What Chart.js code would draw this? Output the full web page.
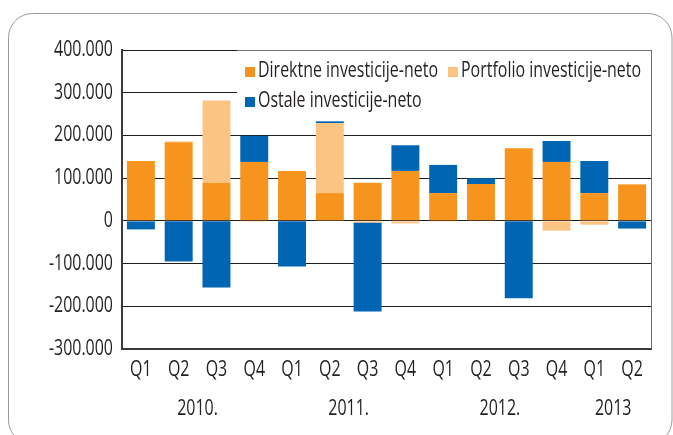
<!DOCTYPE html>
<html>
<head>
<meta charset="utf-8">
<script src="https://cdn.jsdelivr.net/npm/chart.js@4"></script>
<style>
    html, body { margin: 0; padding: 0; background: #ffffff; }
    #wrap { width: 673px; height: 435px; position: relative; }
</style>
</head>
<body>
<div id="wrap"><canvas id="barChart" width="673" height="435"></canvas></div>
<script>
var quarters = ["Q1", "Q2", "Q3", "Q4", "Q1", "Q2", "Q3", "Q4", "Q1", "Q2", "Q3", "Q4", "Q1", "Q2"];
var years = ["2010.", "2011.", "2012.", "2013"];
var yearSpans = [[0, 3], [4, 7], [8, 11], [12, 13]];

// values in thousands
var direktne = [140, 184, 89, 138, 117, 65, 89, 117, 65, 86, 170, 138, 65, 85];
var portfolio = [0, 2, 193, -2, 0, 164, -4, -6, -2, 0, 0, -23, -9, 1.5];
var ostale = [-20, -95, -156, 61, -107, 4, -208, 60, 66, 14, -181, 49, 75, -18];

var yTicks = [-300000, -200000, -100000, 0, 100000, 200000, 300000, 400000];

var seriesNames = ["Direktne investicije-neto", "Portfolio investicije-neto", "Ostale investicije-neto"];
var seriesColors = ["#F7941D", "#FBC483", "#0066B3"];

var FONT = "21px 'Open Sans', sans-serif";
var SQUEEZE = 0.76; // condensed look for all labels
var TEXT_COLOR = "#231f20";

function toUnits(arr) {
    return arr.map(function (v) { return v * 1000; });
}

function formatThousands(value) {
    if (value === 0) return "0";
    var sign = value < 0 ? "-" : "";
    var s = String(Math.abs(value));
    var out = "";
    while (s.length > 3) {
        out = "." + s.slice(-3) + out;
        s = s.slice(0, -3);
    }
    return sign + s + out;
}

function drawText(ctx, text, x, y, align) {
    ctx.save();
    ctx.translate(x, y);
    ctx.scale(SQUEEZE, 1);
    ctx.font = FONT;
    ctx.fillStyle = TEXT_COLOR;
    ctx.textAlign = align;
    ctx.textBaseline = "middle";
    ctx.fillText(text, 0, 0);
    ctx.restore();
}

// rounded outer frame, legend, tick and year labels
var framePlugin = {
    id: "frame",
    beforeDraw: function (chart) {
        var ctx = chart.ctx;
        ctx.save();
        ctx.fillStyle = "#ffffff";
        ctx.fillRect(0, 0, chart.width, chart.height);
        ctx.strokeStyle = "#9a9a9a";
        ctx.lineWidth = 1;
        ctx.beginPath();
        ctx.roundRect(8.5, 13.5, 663.5, 430.5, 24);
        ctx.stroke();
        ctx.restore();
    },
    afterDraw: function (chart) {
        var ctx = chart.ctx;
        var area = chart.chartArea;
        var xScale = chart.scales.x;
        var yScale = chart.scales.y;
        ctx.save();

        // legend box overlaps the top of the plot
        var lx = 237, ly = 51, lw = area.right - 237, lh = 64;
        ctx.fillStyle = "#ffffff";
        ctx.fillRect(lx, ly, lw, lh);

        ctx.strokeStyle = "#6e6e6e";
        ctx.lineWidth = 1;
        ctx.beginPath();
        ctx.moveTo(lx, area.top + 0.5);
        ctx.lineTo(area.right + 0.5, area.top + 0.5);
        ctx.moveTo(area.right + 0.5, area.top);
        ctx.lineTo(area.right + 0.5, area.bottom);
        ctx.stroke();

        var items = [
            { x: 245, y: 71, i: 0 },
            { x: 448, y: 71, i: 1 },
            { x: 245, y: 101, i: 2 }
        ];
        items.forEach(function (it) {
            ctx.fillStyle = seriesColors[it.i];
            ctx.fillRect(it.x, it.y - 4, 10, 10);
            drawText(ctx, seriesNames[it.i], it.x + 13, it.y, "left");
        });

        // y tick labels
        yTicks.forEach(function (v) {
            drawText(ctx, formatThousands(v), area.left - 9, yScale.getPixelForValue(v), "right");
        });

        // quarter labels
        quarters.forEach(function (q, i) {
            drawText(ctx, q, xScale.getPixelForValue(i), 370, "center");
        });

        // year labels under the quarters
        years.forEach(function (label, k) {
            var a = xScale.getPixelForValue(yearSpans[k][0]);
            var b = xScale.getPixelForValue(yearSpans[k][1]);
            drawText(ctx, label, (a + b) / 2, 409, "center");
        });
        ctx.restore();
    }
};

document.addEventListener("DOMContentLoaded", function () {
    var ctx = document.getElementById("barChart").getContext("2d");

    var myChart = new Chart(ctx, {
        type: "bar",
        data: {
            labels: quarters,
            datasets: [
                { label: seriesNames[0], data: toUnits(direktne), backgroundColor: seriesColors[0] },
                { label: seriesNames[1], data: toUnits(portfolio), backgroundColor: seriesColors[1] },
                { label: seriesNames[2], data: toUnits(ostale), backgroundColor: seriesColors[2] }
            ]
        },
        options: {
            responsive: false,
            animation: false,
            layout: { padding: { left: 20, right: 22, top: 50, bottom: 0 } },
            plugins: {
                legend: { display: false },
                tooltip: { enabled: false }
            },
            datasets: {
                bar: { categoryPercentage: 1, barPercentage: 0.74 }
            },
            scales: {
                x: {
                    stacked: true,
                    grid: { display: false, drawTicks: false },
                    border: { color: "#3a3a3a", width: 2 },
                    ticks: { display: false },
                    afterFit: function (scale) { scale.height = 86; }
                },
                y: {
                    stacked: true,
                    min: -300000,
                    max: 400000,
                    afterBuildTicks: function (scale) {
                        scale.ticks = yTicks.map(function (v) { return { value: v }; });
                    },
                    grid: { color: "#1e1e1e", lineWidth: 1, drawTicks: false },
                    border: { color: "#3a3a3a", width: 2 },
                    ticks: { display: false },
                    afterFit: function (scale) { scale.width = 102; }
                }
            }
        },
        plugins: [framePlugin]
    });
});
</script>
</body>
</html>
